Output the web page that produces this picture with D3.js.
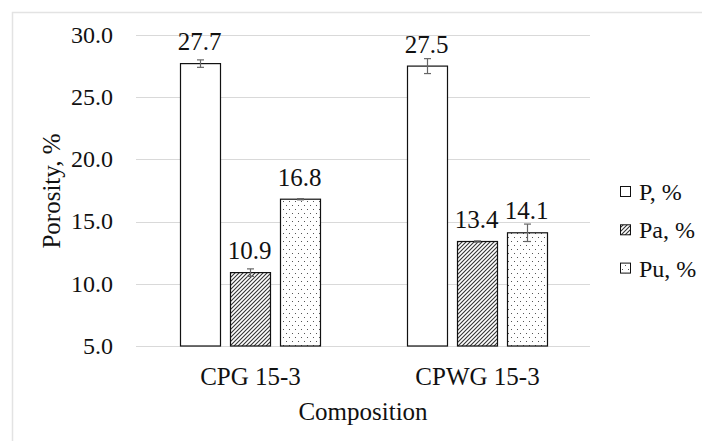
<!DOCTYPE html>
<html>
<head>
<meta charset="utf-8">
<script src="https://cdn.jsdelivr.net/npm/d3@7"></script>
<style>
  html, body { margin: 0; padding: 0; background: #fff; }
  svg { display: block; }
  svg text { font-family: "Liberation Serif"; }
</style>
</head>
<body>
<svg id="chart" width="702" height="441" fill="#111"></svg>
<script>
// ---- data ----
const categories = ["CPG 15-3", "CPWG 15-3"];
const seriesNames = ["P, %", "Pa, %", "Pu, %"];
const valuesP  = [27.7, 27.5];
const valuesPa = [10.9, 13.4];
const valuesPu = [16.8, 14.1];
const errorsP  = [0.3, 0.6];
const errorsPa = [0.3, 0.05];
const errorsPu = [0.05, 0.7];
const yTicks = [5, 10, 15, 20, 25, 30];
const yTitle = "Porosity, %";
const xTitle = "Composition";

const seriesValues = [valuesP, valuesPa, valuesPu];
const seriesErrors = [errorsP, errorsPa, errorsPu];
const fills = ["#fff", "url(#hatch)", "url(#dots)"];

const svg = d3.select("#chart");

svg.append("rect").attr("x", 12.5).attr("y", 12.5).attr("width", 800).attr("height", 600)
  .attr("fill", "none").attr("stroke", "#e3e3e3").attr("stroke-width", 1.5);

const defs = svg.append("defs");
const hatch = defs.append("pattern").attr("id", "hatch").attr("patternUnits", "userSpaceOnUse")
  .attr("width", 4).attr("height", 4);
hatch.append("rect").attr("width", 4).attr("height", 4).attr("fill", "#fff");
hatch.append("path").attr("d", "M-1,1 L1,-1 M0,4 L4,0 M3,5 L5,3")
  .attr("stroke", "#333").attr("stroke-width", 1.1);
const dots = defs.append("pattern").attr("id", "dots").attr("patternUnits", "userSpaceOnUse")
  .attr("width", 6).attr("height", 8);
dots.append("rect").attr("width", 6).attr("height", 8).attr("fill", "#fff");
dots.append("rect").attr("x", 1).attr("y", 1).attr("width", 1).attr("height", 1).attr("fill", "#555");
dots.append("rect").attr("x", 4).attr("y", 5).attr("width", 1).attr("height", 1).attr("fill", "#555");

const plot = { left: 136, right: 590, top: 35, bottom: 346 };

const y = d3.scaleLinear().domain([5, 30]).range([plot.bottom, plot.top]);
const x0 = d3.scaleBand().domain(categories).range([plot.left, plot.right]).padding(0);
const groupW = 140;
const x1 = d3.scaleBand().domain(seriesNames)
  .range([(x0.bandwidth() - groupW) / 2, (x0.bandwidth() + groupW) / 2])
  .paddingInner(0.2).paddingOuter(0);

svg.append("g").selectAll("line").data(yTicks).join("line")
  .attr("x1", plot.left).attr("x2", plot.right)
  .attr("y1", d => Math.round(y(d)) + 0.5).attr("y2", d => Math.round(y(d)) + 0.5)
  .attr("stroke", "#d9d9d9").attr("stroke-width", 1);

svg.append("g").selectAll("text").data(yTicks).join("text")
  .attr("x", 113).attr("y", d => y(d) + 7.8)
  .attr("text-anchor", "end").attr("font-size", 24)
  .text(d => d.toFixed(1));

const barData = [];
categories.forEach((c, ci) => {
  seriesNames.forEach((s, si) => {
    barData.push({ c, s, si, v: seriesValues[si][ci], e: seriesErrors[si][ci] });
  });
});

svg.append("g").selectAll("rect").data(barData).join("rect")
  .attr("x", d => Math.round(x0(d.c) + x1(d.s)) + 0.5)
  .attr("y", d => y(d.v))
  .attr("width", x1.bandwidth())
  .attr("height", d => y(5) - y(d.v))
  .attr("fill", d => fills[d.si])
  .attr("stroke", "#111").attr("stroke-width", 1.2);

const eb = svg.append("g").attr("stroke", "#666").attr("stroke-width", 1.2);
barData.forEach(d => {
  const cx = Math.round(x0(d.c) + x1(d.s) + x1.bandwidth() / 2) + 0.5;
  const yt = y(d.v + d.e), yb = y(d.v - d.e);
  eb.append("line").attr("x1", cx).attr("x2", cx).attr("y1", yt).attr("y2", yb);
  eb.append("line").attr("x1", cx - 3.5).attr("x2", cx + 3.5).attr("y1", yt).attr("y2", yt);
  eb.append("line").attr("x1", cx - 3.5).attr("x2", cx + 3.5).attr("y1", yb).attr("y2", yb);
});

svg.append("g").selectAll("text").data(barData).join("text")
  .attr("x", d => x0(d.c) + x1(d.s) + x1.bandwidth() / 2)
  .attr("y", d => y(d.v) - 13.5)
  .attr("text-anchor", "middle").attr("font-size", 25)
  .text(d => d.v.toFixed(1));

svg.append("g").selectAll("text").data(categories).join("text")
  .attr("x", d => x0(d) + x0.bandwidth() / 2 + 1)
  .attr("y", 385)
  .attr("text-anchor", "middle").attr("font-size", 25)
  .text(d => d);

svg.append("text").attr("x", 363).attr("y", 420)
  .attr("text-anchor", "middle").attr("font-size", 25).text(xTitle);
svg.append("text").attr("transform", "translate(60,191) rotate(-90)")
  .attr("text-anchor", "middle").attr("font-size", 25).text(yTitle);

const lg = svg.append("g");
seriesNames.forEach((s, i) => {
  const base = 200 + i * 38.3;
  lg.append("rect").attr("x", 620.5).attr("y", base - 13.5).attr("width", 10).attr("height", 10)
    .attr("fill", fills[i]).attr("stroke", "#111").attr("stroke-width", 1);
  lg.append("text").attr("x", 639).attr("y", base).attr("font-size", 24).text(s);
});
</script>
</body>
</html>
